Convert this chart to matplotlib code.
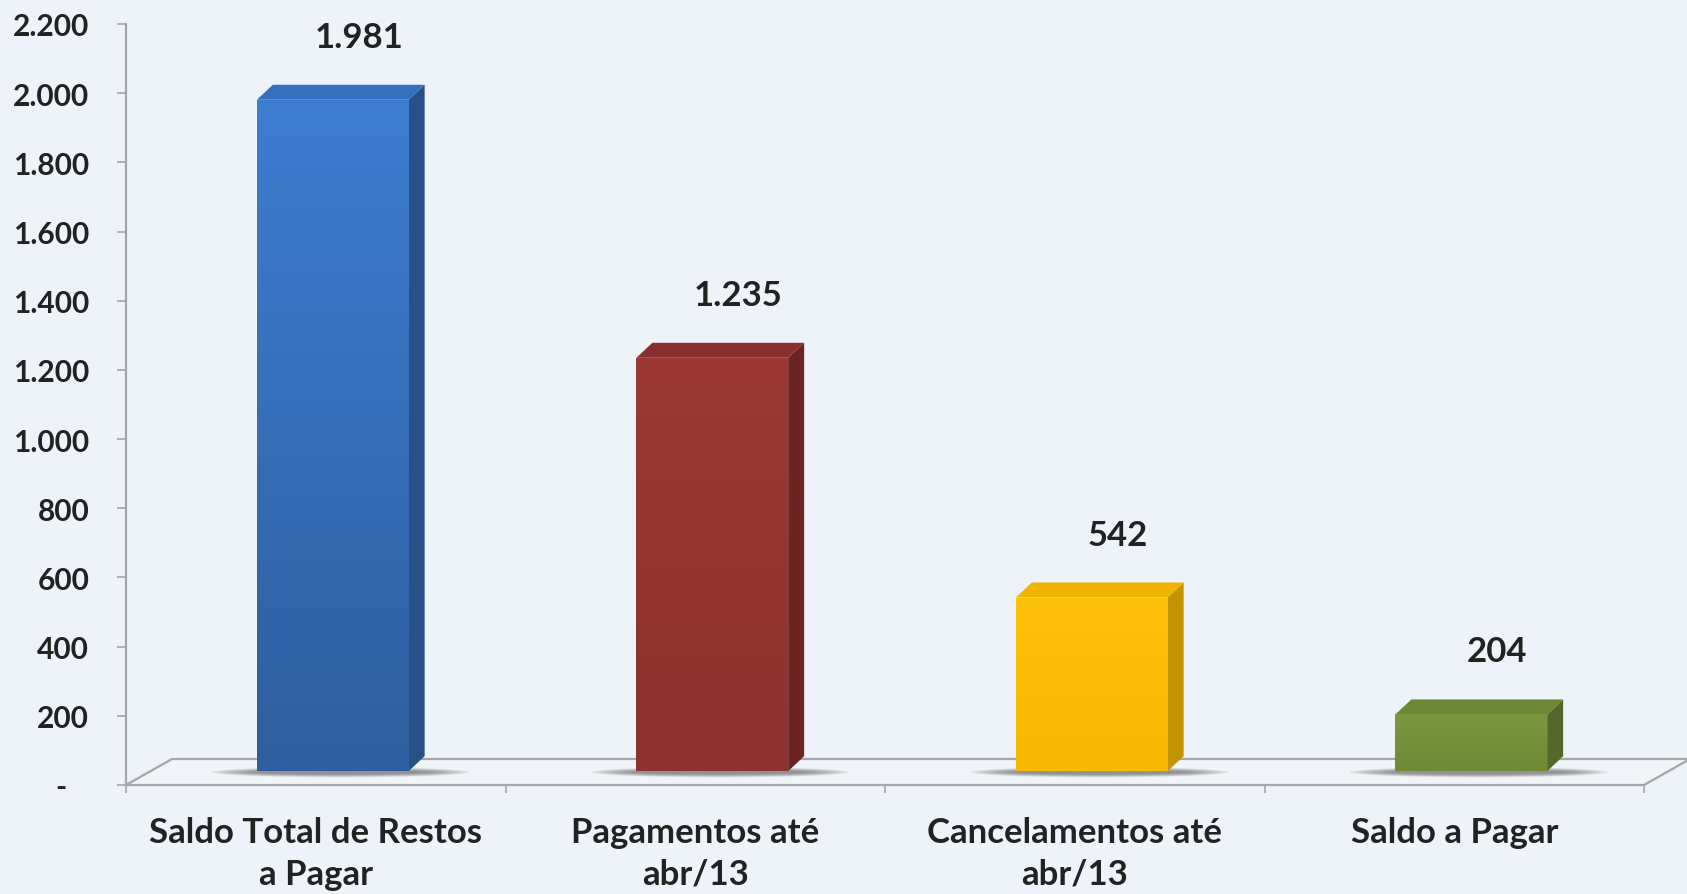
import numpy as np
import matplotlib.pyplot as plt
from matplotlib.patches import Polygon, Ellipse
from matplotlib.colors import LinearSegmentedColormap

# data
categories = ["Saldo Total de Restos\na Pagar", "Pagamentos até\nabr/13",
              "Cancelamentos até\nabr/13", "Saldo a Pagar"]
values = [1981, 1235, 542, 204]
value_labels = ["1.981", "1.235", "542", "204"]
yticks = [0, 200, 400, 600, 800, 1000, 1200, 1400, 1600, 1800, 2000, 2200]
ytick_labels = ["-   ", "200", "400", "600", "800", "1.000", "1.200",
                "1.400", "1.600", "1.800", "2.000", "2.200"]

# styles
bg = "#EEF2F9"
top_colors = ["#3D7ED0", "#9A3936", "#FFC20A", "#7B983F"]
bottom_colors = ["#2E5E9F", "#8C3230", "#F6B800", "#6E8A34"]
side_colors = ["#28518A", "#6A2523", "#C39300", "#53682A"]
cap_colors = ["#3470BD", "#88302E", "#EFB400", "#6C8835"]
text_color = "#222222"
line_color = "#A6A6A6"

plt.rcParams['font.family'] = ['Lato', 'DejaVu Sans']
plt.rcParams['font.weight'] = 'bold'

W, H = 1687, 895
fig = plt.figure(figsize=(W / 100, H / 100), dpi=100, facecolor=bg)
ax_l, ax_r, ax_t, ax_b = 126, 1644, 25, 786
ax = fig.add_axes([ax_l / W, (H - ax_b) / H, (ax_r - ax_l) / W, (ax_b - ax_t) / H])
ax.set_facecolor('none')

ymax = 2200
px_x = (ax_r - ax_l) / 4.0          # pixels per category
px_y = (ax_b - ax_t) / ymax          # pixels per unit

# floor in perspective
depth_x = 46 / px_x
depth_y = 26 / px_y
floor = Polygon([(-0.5, 0), (3.5, 0), (3.5 + depth_x, depth_y), (-0.5 + depth_x, depth_y)],
                closed=True, facecolor="#F1F4F9", edgecolor=line_color, lw=1.6,
                clip_on=False, zorder=1)
ax.add_patch(floor)

base = 40
bar_w = 0.40
bar_off = 17 / px_x
side_dx = 16 / px_x
side_dy = 15 / px_y

x = np.arange(len(values))
for i, v in enumerate(values):
    xc = x[i] + bar_off
    # soft shadow on the floor
    for k in range(7):
        ax.add_patch(Ellipse((xc + 0.02, base - 3), bar_w + 0.28 - k * 0.035, 30 - k * 3,
                             facecolor="#4a4a4a", alpha=0.11, lw=0, zorder=2))

bars = ax.bar(x + bar_off, np.array(values) - base, bottom=base, width=bar_w,
              color=top_colors, linewidth=0, zorder=4)

for i, (b, v) in enumerate(zip(bars, values)):
    x0 = b.get_x()
    x1 = x0 + b.get_width()
    side = Polygon([(x1, base), (x1, v), (x1 + side_dx, v + side_dy), (x1 + side_dx, base + side_dy)],
                   closed=True, facecolor=side_colors[i], lw=0, zorder=3)
    ax.add_patch(side)
    cap = Polygon([(x0, v), (x1, v), (x1 + side_dx, v + side_dy), (x0 + side_dx, v + side_dy)],
                  closed=True, facecolor=cap_colors[i], lw=0, zorder=3)
    ax.add_patch(cap)
    cmap = LinearSegmentedColormap.from_list("g%d" % i, [bottom_colors[i], top_colors[i]])
    grad = np.linspace(0, 1, 256).reshape(-1, 1)
    im = ax.imshow(grad, extent=[x0, x1, base, v], origin='lower', aspect='auto',
                   cmap=cmap, zorder=5)
    im.set_clip_path(b)
    ax.annotate(value_labels[i], (x[i], v), xytext=(43, 63), textcoords='offset pixels',
                ha='center', va='center', fontsize=25, fontweight='bold', color=text_color)

ax.set_xlim(-0.5, 3.5)
ax.set_ylim(0, ymax)

for s in ['top', 'right']:
    ax.spines[s].set_visible(False)
ax.spines['left'].set_color(line_color)
ax.spines['left'].set_linewidth(1.6)
ax.spines['bottom'].set_visible(False)

ax.set_yticks(yticks)
ax.set_yticklabels(ytick_labels)
ax.tick_params(axis='y', direction='out', length=6.5, width=1.2, color=line_color,
               labelsize=21.5, labelcolor=text_color, pad=20)

ax.set_xticks(x)
ax.set_xticklabels(categories, linespacing=1.4)
ax.set_xticks([-0.5, 0.5, 1.5, 2.5, 3.5], minor=True)
ax.tick_params(axis='x', which='major', length=0, labelsize=25, labelcolor=text_color, pad=22)
ax.tick_params(axis='x', which='minor', direction='out', length=6, width=1.2, color=line_color)
for lbl in ax.get_xticklabels() + ax.get_yticklabels():
    lbl.set_fontweight('bold')

fig.savefig("out.png", dpi=100, facecolor=bg)
